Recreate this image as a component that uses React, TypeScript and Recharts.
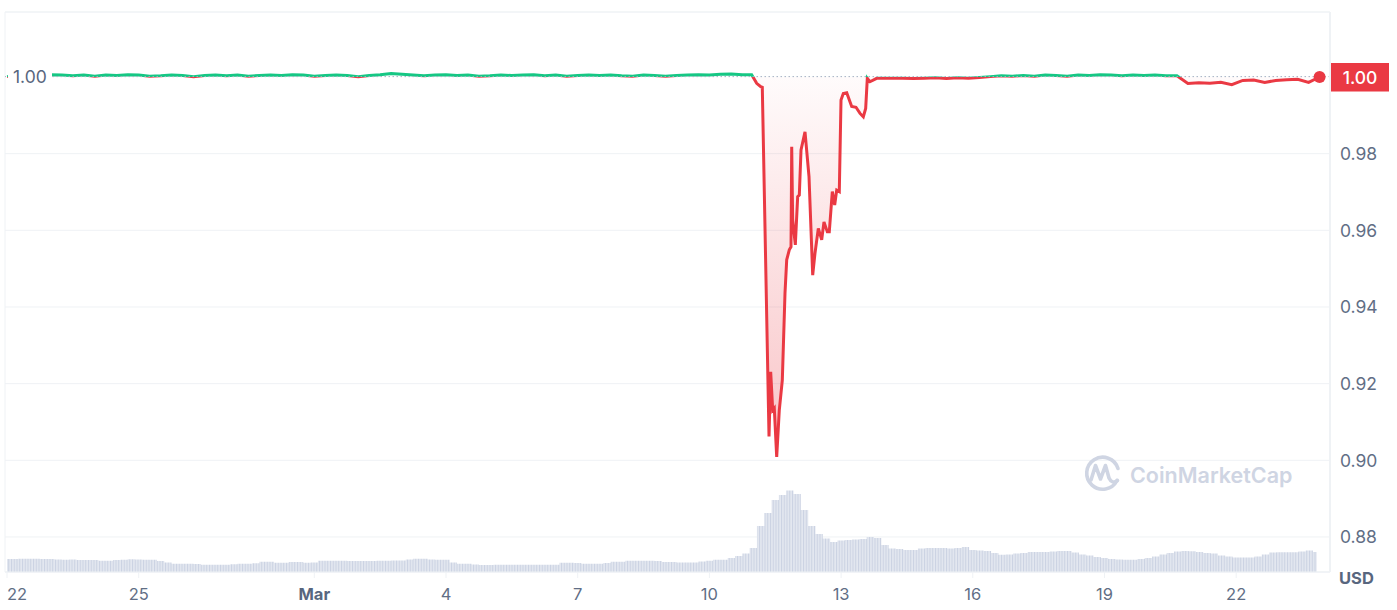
import React from "react";
import {
  ComposedChart,
  Area,
  XAxis,
  YAxis,
  CartesianGrid,
  ReferenceLine,
  ReferenceDot,
  ReferenceArea,
} from "recharts";

const RED = "#ea3943";
const GREEN = "#16c784";
const TEXT = "#616e85";
const LINE = "#eff2f5";
const FONT = "Inter, 'Noto Sans', sans-serif";

// x is measured in days since Feb 22, 00:00
const xTicks = [0, 3, 7, 10, 13, 16, 19, 22, 25, 28];
const xTickLabels = ["22", "25", "Mar", "4", "7", "10", "13", "16", "19", "22"];
const yTicks = [0.88, 0.9, 0.92, 0.94, 0.96, 0.98];

const X_MIN = -0.046;
const X_MAX = 30.137;
const Y_MIN = 0.87086;
const Y_MAX = 1.01696;

const basePrice = 1.0001;

// every 6h from Feb 22 00:00
const preDepegPrices = [
  1.0001, 1.0004, 1.0005, 1.0002, 1.0006, 1.0005, 1.0003, 1.0005, 1.0002, 1.0005,
  1.0004, 1.0006, 1.0005, 1.0002, 1.0003, 1.0005, 1.0004, 1.0001, 1.0004, 1.0005,
  1.0003, 1.0005, 1.0002, 1.0004, 1.0005, 1.0004, 1.0006, 1.0005, 1.0002, 1.0004,
  1.0005, 1.0004, 1.0001, 1.0004, 1.0006, 1.0009, 1.0007, 1.0005, 1.0003, 1.0005,
  1.0006, 1.0004, 1.0005, 1.0002, 1.0003, 1.0005, 1.0004, 1.0005, 1.0006, 1.0003,
  1.0005, 1.0002, 1.0004, 1.0005, 1.0004, 1.0005, 1.0003, 1.0002, 1.0005, 1.0004,
  1.0002, 1.0004, 1.0005, 1.0006, 1.0005, 1.0007, 1.0008, 1.0006,
];

// Mar 10 evening -> Mar 14 (irregular samples)
const depegTimes = [
  16.963, 17.077, 17.169, 17.205, 17.358, 17.396, 17.442, 17.478, 17.533, 17.592,
  17.661, 17.722, 17.761, 17.82, 17.859, 17.875, 17.897, 17.957, 18.011, 18.048,
  18.087, 18.178, 18.269, 18.353, 18.405, 18.481, 18.558, 18.61, 18.686, 18.731,
  18.8, 18.854, 18.9, 18.959, 18.998, 19.05, 19.128, 19.241, 19.339, 19.431,
  19.506, 19.56, 19.597, 19.658, 19.811, 20.114,
];
const depegPrices = [
  1.0006, 0.99836, 0.99747, 0.99731, 0.9062, 0.9231, 0.9131, 0.9136, 0.9009, 0.9131,
  0.9209, 0.9436, 0.9523, 0.9549, 0.9557, 0.9818, 0.9627, 0.9562, 0.9688, 0.9692,
  0.981, 0.9857, 0.974, 0.9483, 0.954, 0.9605, 0.9575, 0.9622, 0.9596, 0.9596,
  0.9701, 0.9666, 0.9705, 0.9701, 0.994, 0.9957, 0.9959, 0.9923, 0.9921, 0.9905,
  0.9896, 0.9918, 0.99966, 0.99877, 0.99966, 0.99966,
];

// every 6h from day 20.4
const recoveryStart = 20.4;
const recoveryPrices = [
  0.9997, 0.9996, 0.9997, 0.9998, 0.9996, 0.9998, 0.9997, 0.9999, 1.0001, 1.0003,
  1.0002, 1.0004, 1.0002, 1.0005, 1.0004, 1.0002, 1.0005, 1.0004, 1.0006, 1.0005,
  1.0003, 1.0005, 1.0004, 1.0005, 1.0003, 1.0003, 0.9983, 0.9985, 0.9984, 0.9986,
  0.998, 0.9991, 0.9992, 0.9986, 0.9991, 0.9993, 0.9994, 0.9986, 1.0,
];

// trading volume, every 4h from Feb 22 00:00
const volume = [
  13, 13, 13.3, 13.3, 13.3, 13, 13, 12.5, 12.3, 12.5,
  12, 12, 12, 11.3, 11.3, 12, 12.3, 12.8, 12.5, 12.3,
  12.3, 11, 9.5, 8.3, 8.3, 8.3, 8, 7.3, 7.3, 7.3,
  7.3, 7.8, 8.3, 8.3, 8.8, 10.3, 10.3, 9.3, 9.3, 10,
  10, 9.3, 9.5, 11.3, 11.3, 11.3, 11.3, 11, 11, 11,
  11, 11.3, 11.3, 11.5, 11.5, 12.5, 13.3, 13.3, 12.5, 12.3,
  12.3, 9.5, 8.3, 8.3, 7.5, 7, 7, 7.3, 7.3, 7.3,
  7.3, 7.3, 7.3, 7.3, 7.3, 7.3, 9.3, 9.3, 9, 8.3,
  8.3, 8.3, 9, 10.3, 10.3, 11.3, 11.3, 11.3, 11.3, 11,
  10, 10, 9.5, 9.5, 9.5, 10.5, 11.3, 12.3, 12.3, 14,
  16, 18.5, 24, 46, 59, 72, 77, 81.5, 78, 62,
  46, 38, 33.5, 30, 31.5, 32, 32.5, 33, 35, 34,
  27, 23.5, 23, 22, 22, 23.5, 24, 24, 24, 23.5,
  24, 25, 22, 21.5, 21, 19, 17.3, 17.5, 18.5, 19,
  20, 20, 20, 20.5, 21, 21, 19.5, 17.5, 16.5, 15,
  14, 13, 12.5, 12.3, 12.3, 13, 14, 15.5, 17.5, 19,
  20.5, 21, 20.7, 20, 19, 18.5, 16.5, 15.5, 14.5, 14.5,
  14.5, 15.5, 17.5, 19.5, 19.7, 19.7, 19.7, 20.5, 21.5, 20,
];

const priceData = [
  ...preDepegPrices.map((p, i) => ({ t: i * 0.25, p })),
  ...depegTimes.map((t, i) => ({ t, p: depegPrices[i] })),
  ...recoveryPrices.map((p, i) => ({ t: recoveryStart + i * 0.25, p })),
];
const volumeData = volume.map((v, i) => ({ t: i / 6, v }));

const allPrices = priceData.map((d) => d.p);
const maxP = Math.max(...allPrices);
const minP = Math.min(...allPrices);
const splitOffset = (maxP - basePrice) / (maxP - minP);
const last = priceData[priceData.length - 1];

const DateTick = (props: any) => {
  const { x, y, payload } = props;
  const i = xTicks.indexOf(payload.value);
  const isMonth = xTickLabels[i] === "Mar";
  return (
    <text
      x={x}
      y={y + 19.5}
      textAnchor={i === 0 ? "start" : "middle"}
      fontSize={16.5}
      fontFamily={FONT}
      fontWeight={isMonth ? 700 : 400}
      fill={isMonth ? "#58667e" : TEXT}
    >
      {xTickLabels[i]}
    </text>
  );
};

const BaseLabel = (props: any) => {
  const { viewBox } = props;
  return (
    <g>
      <rect x={viewBox.x + 3} y={viewBox.y - 11} width={44} height={22} fill="#fff" />
      <text x={viewBox.x + 8} y={viewBox.y + 6.5} fontSize={17.5} fontFamily={FONT} fill="#58667e">
        {basePrice.toFixed(2)}
      </text>
    </g>
  );
};

const PriceBadge = (props: any) => {
  const { viewBox } = props;
  const right = viewBox.x + viewBox.width;
  return (
    <g>
      <rect x={right} y={viewBox.y - 14} width={59} height={28.5} fill={RED} />
      <text
        x={right + 30}
        y={viewBox.y + 6.5}
        textAnchor="middle"
        fontSize={17.5}
        fontWeight={500}
        fontFamily={FONT}
        fill="#fff"
      >
        {last.p.toFixed(2)}
      </text>
    </g>
  );
};

export default function App() {
  return (
    <div style={{ position: "absolute", left: 0, top: 0, width: 1397, height: 610, background: "#fff" }}>
      <ComposedChart width={1397} height={610} margin={{ top: 12, right: 0, bottom: 0, left: 5 }}>
        <defs>
          <linearGradient id="priceStroke" x1="0" y1="0" x2="0" y2="1">
            <stop offset={0} stopColor={GREEN} />
            <stop offset={splitOffset} stopColor={GREEN} />
            <stop offset={splitOffset} stopColor={RED} />
            <stop offset={1} stopColor={RED} />
          </linearGradient>
          <linearGradient id="priceFill" x1="0" y1="0" x2="0" y2="1">
            <stop offset={0} stopColor={GREEN} stopOpacity={0.1} />
            <stop offset={splitOffset} stopColor={GREEN} stopOpacity={0.03} />
            <stop offset={splitOffset} stopColor={RED} stopOpacity={0.02} />
            <stop offset={1} stopColor={RED} stopOpacity={0.3} />
          </linearGradient>
          <pattern id="volStripes" patternUnits="userSpaceOnUse" width={2.75} height={10}>
            <rect width={2.75} height={10} fill="#e3e7f0" />
            <rect width={1} height={10} fill="#cbd2e2" />
          </pattern>
        </defs>
        <CartesianGrid yAxisId="price" vertical={false} stroke={LINE} />
        <ReferenceArea
          yAxisId="price"
          x1={X_MIN}
          x2={X_MAX}
          y1={Y_MIN}
          y2={Y_MAX}
          fill="none"
          stroke={LINE}
        />
        <XAxis
          dataKey="t"
          type="number"
          domain={[X_MIN, X_MAX]}
          ticks={xTicks}
          interval={0}
          allowDataOverflow
          height={38}
          tickSize={6}
          tickLine={{ stroke: LINE }}
          axisLine={{ stroke: LINE }}
          tick={<DateTick />}
        />
        <YAxis
          yAxisId="price"
          orientation="right"
          domain={[Y_MIN, Y_MAX]}
          ticks={yTicks}
          allowDataOverflow
          width={67}
          tickLine={false}
          tickMargin={4}
          axisLine={{ stroke: LINE, strokeWidth: 2 }}
          tickFormatter={(v: number) => v.toFixed(2)}
          tick={{ fontSize: 17.5, fill: TEXT, fontFamily: FONT }}
        />
        <YAxis yAxisId="vol" hide domain={[0, 560]} allowDataOverflow />
        <Area
          yAxisId="vol"
          data={volumeData}
          dataKey="v"
          type="step"
          stroke="none"
          fill="url(#volStripes)"
          fillOpacity={1}
          isAnimationActive={false}
          activeDot={false}
        />
        <ReferenceLine
          yAxisId="price"
          y={basePrice}
          stroke="#a6b0c3"
          strokeDasharray="1.5 2.5"
        />
        <Area
          yAxisId="price"
          data={priceData}
          dataKey="p"
          type="linear"
          baseValue={basePrice}
          stroke="url(#priceStroke)"
          strokeWidth={3}
          fill="url(#priceFill)"
          fillOpacity={1}
          dot={false}
          activeDot={false}
          isAnimationActive={false}
        />
        <ReferenceLine yAxisId="price" y={basePrice} stroke="none" label={<BaseLabel />} />
        <ReferenceLine yAxisId="price" y={last.p} stroke="none" label={<PriceBadge />} />
        <ReferenceDot yAxisId="price" x={last.t} y={last.p} r={6} fill={RED} stroke="none" />
      </ComposedChart>
      <svg
        width={1397}
        height={610}
        style={{ position: "absolute", left: 0, top: 0, pointerEvents: "none" }}
      >
        <text x={1339} y={584} fontSize={16.5} fontWeight={700} fontFamily={FONT} fill="#58667e">
          USD
        </text>
        <g stroke="#cfd5e3" strokeWidth={3.6} fill="none" strokeLinecap="round" strokeLinejoin="round">
          <path d="M 1117 480.5 A 16 16 0 1 1 1118 468.5" />
          <path d="M 1091 480 L 1095.5 465.5 L 1100.5 479 L 1105.5 465.5 L 1109 478 Q 1112 484.5 1117.5 480.5" />
        </g>
        <text x={1130} y={483} fontSize={21.5} fontWeight={600} fontFamily={FONT} fill="#cfd5e3">
          CoinMarketCap
        </text>
      </svg>
    </div>
  );
}
